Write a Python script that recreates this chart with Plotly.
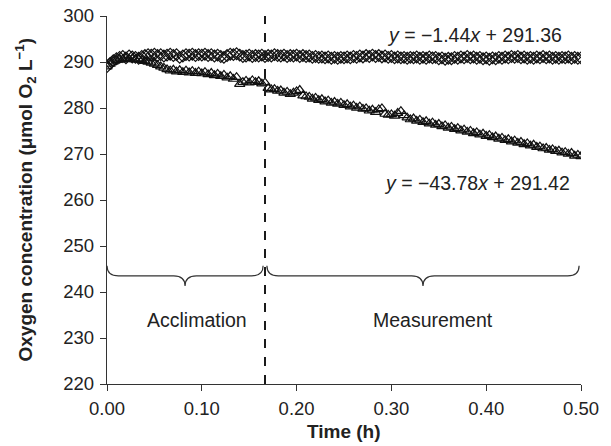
import numpy as np
import plotly.graph_objects as go

# Sampling interval of the oxygen probe (h): one reading every 12 s
sample_interval_h = 12 / 3600

control_o2 = [
    289.0, 289.7, 290.3, 290.7, 291.0, 291.2, 290.9, 291.3, 291.1, 291.0,
    290.8, 291.2, 291.4, 291.6, 291.5, 291.7, 291.4, 291.6, 291.3, 291.5,
    291.7, 291.4, 291.6, 291.0, 291.3, 291.6, 291.5, 291.7, 291.4, 291.6,
    291.5, 291.7, 291.4, 291.6, 291.3, 291.5, 291.2, 291.0, 291.4, 291.7,
    291.6, 291.8, 291.5, 291.2, 291.3, 291.5, 291.2, 291.4, 291.3, 291.5,
    291.2, 291.4, 291.3, 291.6, 291.4, 291.3, 291.5, 291.2, 291.4, 291.3,
    291.5, 291.2, 291.4, 291.2, 291.3, 291.0, 291.2, 291.0, 291.1, 290.9,
    291.1, 290.8, 291.0, 290.8, 291.0, 290.9, 291.1, 290.9, 291.2, 291.0,
    291.3, 291.1, 291.4, 291.2, 291.5, 291.2, 291.4, 291.1, 291.3, 291.0,
    291.2, 290.9, 291.1, 290.9, 291.0, 290.8, 291.0, 290.9, 291.1, 290.8,
    291.0, 290.8, 291.1, 290.9, 291.0, 290.7, 290.9, 290.6, 290.8, 290.7,
    291.0, 290.8, 291.1, 290.9, 291.2, 290.9, 291.1, 290.8, 291.0, 290.7,
    290.9, 290.6, 290.9, 290.7, 291.0, 290.8, 291.1, 290.9, 291.2, 291.0,
    291.2, 290.9, 291.1, 290.8, 291.0, 290.8, 291.1, 290.9, 291.2, 290.9,
    291.1, 290.8, 291.0, 290.8, 291.0, 290.9, 291.1, 290.8, 291.0, 290.8,
    290.9,
]

animal_o2 = [
    289.0, 289.6, 290.1, 290.4, 290.7, 290.5, 290.8, 290.6, 290.7, 290.5,
    290.6, 290.4, 290.2, 290.0, 289.8, 289.6, 289.3, 289.0, 288.7, 288.4,
    288.1, 288.3, 287.9, 288.2, 287.8, 288.1, 287.7, 288.0, 287.6, 287.9,
    287.5, 287.8, 287.3, 287.6, 287.1, 287.4, 286.9, 287.2, 286.6, 286.9,
    286.3, 286.7, 285.2, 285.6, 285.9, 285.5, 286.0, 285.6, 285.8, 285.3,
    285.5, 284.3, 284.0, 284.1, 283.7, 283.8, 283.3, 283.5, 283.0, 283.3,
    283.6, 283.9, 282.7, 282.5, 282.4, 282.0, 282.2, 281.7, 281.9, 281.4,
    281.6, 281.1, 281.3, 280.9, 281.1, 280.6, 280.8, 280.3, 280.5, 280.0,
    280.3, 279.8, 279.9, 279.4, 279.6, 279.1, 279.7, 279.9, 278.7, 278.5,
    278.6, 278.3, 278.9, 279.3, 278.4, 277.9, 277.5, 277.7, 277.2, 277.4,
    276.9, 277.1, 276.6, 276.8, 276.3, 276.5, 276.0, 276.2, 275.7, 275.9,
    275.4, 275.6, 275.1, 275.3, 274.8, 275.0, 274.5, 274.7, 274.2, 274.4,
    273.9, 274.1, 273.6, 273.8, 273.3, 273.5, 273.0, 273.2, 272.7, 272.9,
    272.4, 272.6, 272.1, 272.3, 271.8, 272.0, 271.5, 271.6, 271.2, 271.3,
    270.9, 271.0, 270.6, 270.7, 270.3, 270.4, 270.0, 270.2, 269.6, 269.8,
    269.5,
]

time_h = np.arange(len(control_o2)) * sample_interval_h

x_ticks = [0.0, 0.1, 0.2, 0.3, 0.4, 0.5]
x_tick_labels = ["0.00", "0.10", "0.20", "0.30", "0.40", "0.50"]
y_ticks = [220, 230, 240, 250, 260, 270, 280, 290, 300]

acclimation_end = 1 / 6  # h (10 min)
phase_labels = ["Acclimation", "Measurement"]
equations = ["<i>y</i> = −1.44<i>x</i> + 291.36", "<i>y</i> = −43.78<i>x</i> + 291.42"]
x_title = "<b>Time (h)</b>"
y_title = "<b>Oxygen concentration (μmol O<sub>2</sub> L<sup>−1</sup>)</b>"

FONT = "Liberation Sans, Arial, sans-serif"
INK = "#222222"

fig = go.Figure()
fig.add_trace(go.Scatter(
    x=time_h, y=control_o2, mode="markers",
    marker=dict(symbol="diamond-open", size=9, color="#111111", line=dict(width=1.2)),
    showlegend=False,
))
fig.add_trace(go.Scatter(
    x=time_h, y=animal_o2, mode="markers",
    marker=dict(symbol="triangle-up-open", size=9, color="#111111", line=dict(width=1.2)),
    showlegend=False,
))

# dashed separator between phases
fig.add_shape(type="line", x0=acclimation_end, x1=acclimation_end, y0=220, y1=300,
              xref="x", yref="y", line=dict(color="#1a1a1a", width=2, dash="dash"))


def brace(x0, x1, ybase=243.5, yend=245.7, ytip=241.3):
    mid = (x0 + x1) / 2
    d = 0.012
    return (f"M {x0},{yend} Q {x0},{ybase} {x0 + d},{ybase} "
            f"L {mid - d},{ybase} Q {mid},{ybase} {mid},{ytip} "
            f"Q {mid},{ybase} {mid + d},{ybase} "
            f"L {x1 - d},{ybase} Q {x1},{ybase} {x1},{yend}")


for a, b in [(0.0, acclimation_end - 0.002), (acclimation_end + 0.002, 0.498)]:
    fig.add_shape(type="path", path=brace(a, b), xref="x", yref="y",
                  line=dict(color="#333333", width=1.2))

ann_font = dict(size=19.5, color=INK, family=FONT)
fig.add_annotation(x=0.095, y=233.9, text=phase_labels[0], showarrow=False, font=ann_font)
fig.add_annotation(x=0.344, y=233.9, text=phase_labels[1], showarrow=False, font=ann_font)
fig.add_annotation(x=0.388, y=295.9, text=equations[0], showarrow=False, font=ann_font)
fig.add_annotation(x=0.390, y=263.7, text=equations[1], showarrow=False, font=ann_font)

# axis titles
fig.add_annotation(xref="paper", yref="paper", x=0.5, y=-0.1304, text=x_title,
                   showarrow=False, xanchor="center", yanchor="middle",
                   font=dict(size=19, color=INK, family=FONT))
fig.add_annotation(xref="paper", yref="paper", x=-0.172, y=0.5, text=y_title,
                   textangle=-90, showarrow=False, xanchor="center", yanchor="middle",
                   font=dict(size=19, color=INK, family=FONT))

fig.update_layout(
    width=611, height=446,
    margin=dict(l=107, r=30, t=16, b=62),
    paper_bgcolor="white", plot_bgcolor="white",
    font=dict(family=FONT, size=18.5, color=INK),
)
axis_style = dict(
    showgrid=False, zeroline=False, showline=True, linecolor="#333333", linewidth=1.3,
    ticks="outside", ticklen=6, tickcolor="#333333", tickwidth=1.3,
    automargin=False, ticklabelstandoff=2,
)
fig.update_xaxes(range=[0, 0.5], tickvals=x_ticks, ticktext=x_tick_labels, **axis_style)
fig.update_yaxes(range=[220, 300], tickvals=y_ticks, **axis_style)

fig.write_html(
    "out.html",
    config={"displayModeBar": False},
    post_script="document.body.style.margin='0';document.body.style.overflow='hidden';",
)
